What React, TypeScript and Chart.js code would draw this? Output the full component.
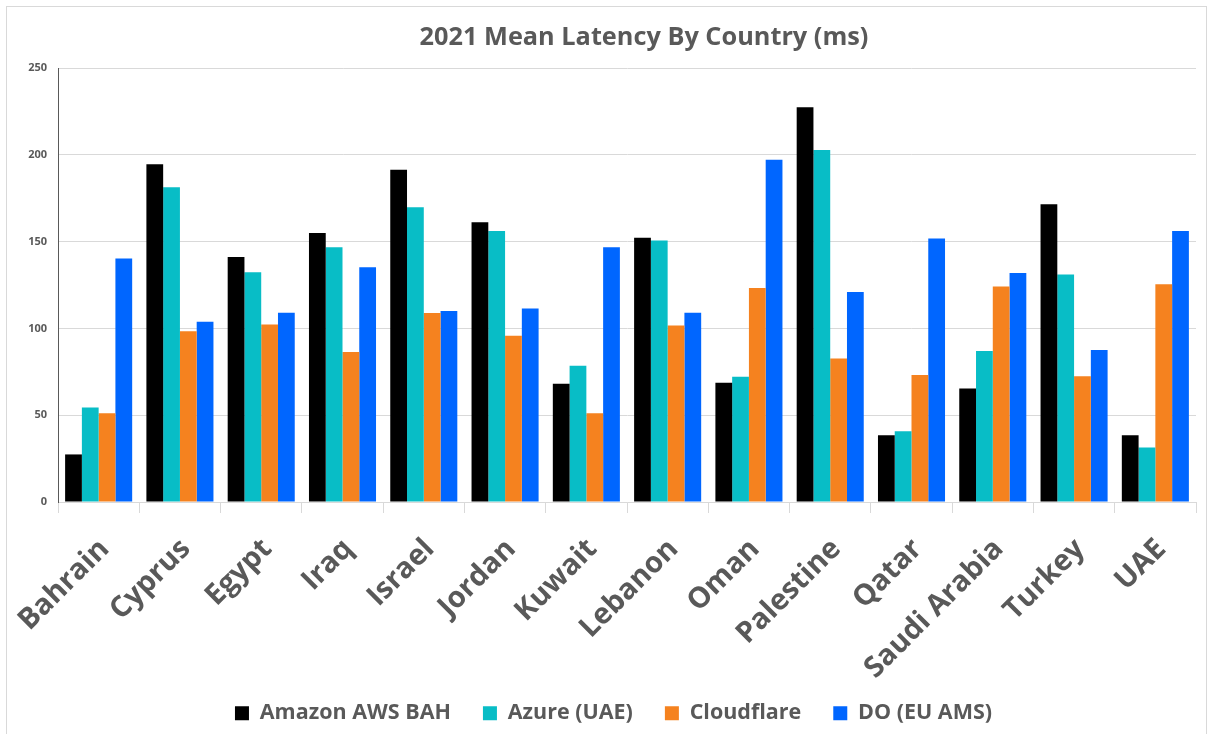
import React, { useEffect, useRef } from "react";
import { Chart, registerables } from "chart.js";

Chart.register(...registerables);

const categories = [
  "Bahrain", "Cyprus", "Egypt", "Iraq", "Israel", "Jordan", "Kuwait",
  "Lebanon", "Oman", "Palestine", "Qatar", "Saudi Arabia", "Turkey", "UAE",
];
const awsValues = [27.4, 194.6, 141.2, 154.9, 191.4, 161.1, 68.1, 152.2, 68.7, 227.4, 38.4, 65.4, 171.5, 38.4];
const azureValues = [54.4, 181.3, 132.3, 146.8, 169.8, 156.1, 78.5, 150.7, 72.1, 202.7, 40.7, 87.0, 131.0, 31.4];
const cloudflareValues = [51.1, 98.4, 102.2, 86.4, 108.8, 95.7, 51.1, 101.7, 123.3, 82.6, 73.1, 124.2, 72.5, 125.4];
const doValues = [140.2, 103.8, 109.0, 135.2, 110.0, 111.5, 146.8, 109.0, 197.1, 121.0, 151.8, 131.9, 87.6, 156.1];
const seriesNames = ["Amazon AWS BAH", "Azure (UAE)", "Cloudflare", "DO (EU AMS)"];
const yTicks = [0, 50, 100, 150, 200, 250];
const titleText = "2021 Mean Latency By Country (ms)";

const GRAY = "#595959";
const FONT = "'Open Sans', 'DejaVu Sans', sans-serif";

const titlePlugin = {
  id: "customTitle",
  afterDraw(chart: any) {
    const ctx = chart.ctx;
    ctx.save();
    ctx.font = `bold 25.3px ${FONT}`;
    ctx.fillStyle = GRAY;
    ctx.textAlign = "center";
    ctx.textBaseline = "alphabetic";
    ctx.fillText(titleText, 644, 45);
    ctx.restore();
  },
};

const layoutTweakPlugin = {
  id: "layoutTweak",
  afterLayout(chart: any) {
    if (chart.legend) {
      chart.legend.left += 31;
    }
    // let the rotated category labels use the space down to the canvas edge
    if (chart.scales && chart.scales.x) {
      chart.scales.x.bottom = chart.height;
    }
  },
};

export default function App() {
  const ref = useRef<HTMLCanvasElement | null>(null);

  useEffect(() => {
    if (!ref.current) return;
    const chart = new Chart(ref.current, {
      type: "bar",
      data: {
        labels: categories,
        datasets: [
          { label: seriesNames[0], data: awsValues, backgroundColor: "#000000" },
          { label: seriesNames[1], data: azureValues, backgroundColor: "#08BDC6" },
          { label: seriesNames[2], data: cloudflareValues, backgroundColor: "#F5821F" },
          { label: seriesNames[3], data: doValues, backgroundColor: "#0066FF" },
        ],
      },
      plugins: [titlePlugin, layoutTweakPlugin],
      options: {
        responsive: false,
        animation: false,
        devicePixelRatio: 1,
        layout: { padding: { top: 68, left: 0, right: 11, bottom: 0 } },
        datasets: {
          bar: { categoryPercentage: 0.825, barPercentage: 1.0 },
        },
        plugins: {
          title: { display: false },
          tooltip: { enabled: false },
          legend: {
            position: "bottom",
            labels: {
              boxWidth: 14,
              boxHeight: 14,
              padding: 32,
              color: GRAY,
              font: { family: FONT, size: 21.5, weight: "bold", lineHeight: 1 },
            },
          },
        },
        scales: {
          x: {
            grid: {
              drawOnChartArea: false,
              drawTicks: true,
              tickLength: 11,
              color: "#d9d9d9",
              offset: true,
            },
            border: { color: "#d9d9d9", width: 1 },
            ticks: {
              autoSkip: false,
              maxRotation: 45,
              minRotation: 45,
              padding: 19,
              labelOffset: 6,
              color: GRAY,
              font: { family: FONT, size: 29, weight: "bold" },
            },
            afterFit(scale: any) {
              scale.height = 168.5;
              scale.paddingLeft = 0;
              scale.paddingRight = 0;
            },
          },
          y: {
            min: 0,
            max: 250,
            afterBuildTicks(scale: any) {
              scale.ticks = yTicks.map((v) => ({ value: v }));
            },
            grid: { color: "#d9d9d9", drawTicks: false },
            border: { color: "#595959", width: 1 },
            ticks: {
              padding: 11,
              color: GRAY,
              font: { family: FONT, size: 11, weight: "bold" },
            },
            afterFit(scale: any) {
              scale.width = 58;
            },
          },
        },
      },
    });
    return () => chart.destroy();
  }, []);

  return (
    <div style={{ position: "fixed", left: 0, top: 0, width: 1207, height: 734, background: "#ffffff" }}>
      <canvas ref={ref} width={1207} height={734} style={{ position: "absolute", left: 0, top: 0 }} />
      <div
        style={{
          position: "absolute",
          left: 6,
          top: 6,
          width: 1199,
          height: 727,
          border: "1px solid #d9d9d9",
          pointerEvents: "none",
        }}
      />
    </div>
  );
}
